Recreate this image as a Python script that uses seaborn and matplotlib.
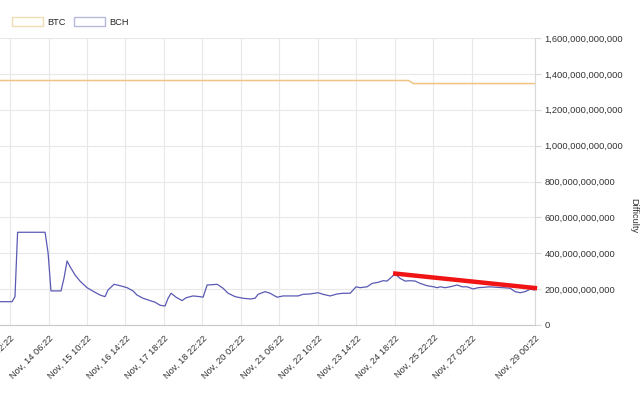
import matplotlib
matplotlib.use('Agg')
import matplotlib.pyplot as plt
import matplotlib.dates as mdates
from matplotlib.patches import Patch
from matplotlib.ticker import FuncFormatter, MultipleLocator
import seaborn as sns
import pandas as pd

# hours after Nov 13 02:22 and values
start = pd.Timestamp('2022-11-13 02:22')
end = pd.Timestamp('2022-11-29 00:22')

bch_hours = [-7.3, 1.5, 3.6, 5.5, 25.5, 27.7, 29.8, 37.1, 39.3, 41.5, 43.7, 47.3, 50.9,
             56.0, 61.9, 65.5, 69.1, 71.3, 75.7, 80.1, 85.2, 89.5, 92.4, 96.8, 101.9,
             105.5, 109.2, 112.8, 115.0, 117.2, 120.8, 125.2, 128.1, 133.2, 138.3, 140.5,
             143.4, 147.7, 150.7, 155.0, 158.7, 163.8, 169.6, 174.7, 178.3, 180.5, 185.6,
             189.2, 194.3, 198.7, 203.8, 209.6, 213.2, 218.3, 224.2, 227.8, 232.9, 238.0,
             242.4, 247.5, 251.8, 254.7, 259.8, 263.5, 267.8, 271.5, 274.4, 278.7, 280.9,
             283.8, 287.5, 291.1, 294.8, 298.4, 303.5, 308.2, 310.8, 313.0, 316.6, 320.2,
             325.3, 329.0, 332.6, 337.0, 340.6, 344.3, 349.3, 354.4, 358.8, 363.9, 367.5,
             371.2, 374.8, 378.4, 382.1]
bch_values = [130, 130, 158, 517, 517, 401, 190, 190, 262, 357, 325, 279, 245,
              208, 182, 167, 158, 195, 227, 219, 208, 190, 167, 149, 136,
              127, 110, 106, 149, 177, 155, 136, 152, 162, 158, 155,
              223, 225, 227, 205, 177, 158, 149, 145, 149, 171, 186,
              177, 155, 162, 162, 162, 171, 173, 180, 171, 162, 173,
              177, 177, 213, 208, 213, 232, 238, 247, 245, 275, 279,
              260, 245, 247, 245, 232, 219, 213, 208, 213, 208, 213,
              223, 213, 213, 201, 208, 210, 213, 210, 208, 205, 186,
              180, 186, 199, 195]  # billions

btc_hours = [-7.3, 290.0, 293.5, 382.1]
btc_values = [1363, 1363, 1346, 1346]  # billions

trend_hours = [278.7, 383.5]
trend_values = [288, 205]  # billions

bch = pd.DataFrame({'time': start + pd.to_timedelta(bch_hours, unit='h'),
                    'value': [v * 1e9 for v in bch_values]})
btc = pd.DataFrame({'time': start + pd.to_timedelta(btc_hours, unit='h'),
                    'value': [v * 1e9 for v in btc_values]})
trend = pd.DataFrame({'time': start + pd.to_timedelta(trend_hours, unit='h'),
                      'value': [v * 1e9 for v in trend_values]})

sns.set_style('white')
plt.rcParams['font.family'] = ['Liberation Sans', 'DejaVu Sans']

fig = plt.figure(figsize=(6.4, 3.96), dpi=100)
ax = fig.add_axes([0.0, 1 - 325 / 396, 535 / 640, 287 / 396])

btc_color = '#f0c284'
bch_color = '#5a5ab4'

sns.lineplot(data=btc, x='time', y='value', ax=ax, color=btc_color, linewidth=1.1)
sns.lineplot(data=bch, x='time', y='value', ax=ax, color=bch_color, linewidth=0.9)
ax.plot(trend['time'], trend['value'], color='#f01414', linewidth=3.2,
        solid_capstyle='butt', clip_on=False, zorder=5)

ax.set_xlim(start - pd.Timedelta(hours=7.3), end)
ax.set_ylim(0, 1.6e12)

ticks = list(pd.date_range(start, periods=13, freq='28h')) + [end]
ax.set_xticks(ticks)
ax.xaxis.set_major_formatter(mdates.DateFormatter('%b, %d %H:%M'))
for lab in ax.get_xticklabels():
    lab.set_rotation(45)
    lab.set_ha('right')
    lab.set_rotation_mode('anchor')

ax.yaxis.tick_right()
ax.yaxis.set_major_locator(MultipleLocator(2e11))
ax.yaxis.set_major_formatter(FuncFormatter(lambda v, p: f'{v:,.0f}'))

ax.grid(True, color='#e8e8e8', linewidth=0.8)
ax.tick_params(axis='both', labelsize=6.7, colors='#d8d8d8', labelcolor='#333333', length=4, width=0.8)
ax.tick_params(axis='y', pad=3)
ax.tick_params(axis='x', pad=2)
ax.set_xlabel('')
ax.set_ylabel('')
for side in ['top', 'left']:
    ax.spines[side].set_visible(False)
ax.spines['right'].set_color('#d8d8d8')
ax.spines['bottom'].set_color('#c8c8c8')
ax.spines['right'].set_linewidth(0.8)
ax.spines['bottom'].set_linewidth(0.8)

fig.text(634 / 640, 180 / 396, 'Difficulty', rotation=270, fontsize=6.7,
         color='#333333', ha='center', va='center')

handles = [Patch(facecolor='white', edgecolor='#efdcb4', linewidth=1.0, label='BTC'),
           Patch(facecolor='white', edgecolor='#b8b8dc', linewidth=1.0, label='BCH')]
fig.legend(handles=handles, loc='upper left', bbox_to_anchor=(12 / 640, 1 - 17 / 396),
           ncol=2, frameon=False, fontsize=6.7, handlelength=3.3, handleheight=1.1,
           handletextpad=0.5, columnspacing=0.9, borderpad=0, borderaxespad=0)

fig.savefig('out.png', dpi=100)
